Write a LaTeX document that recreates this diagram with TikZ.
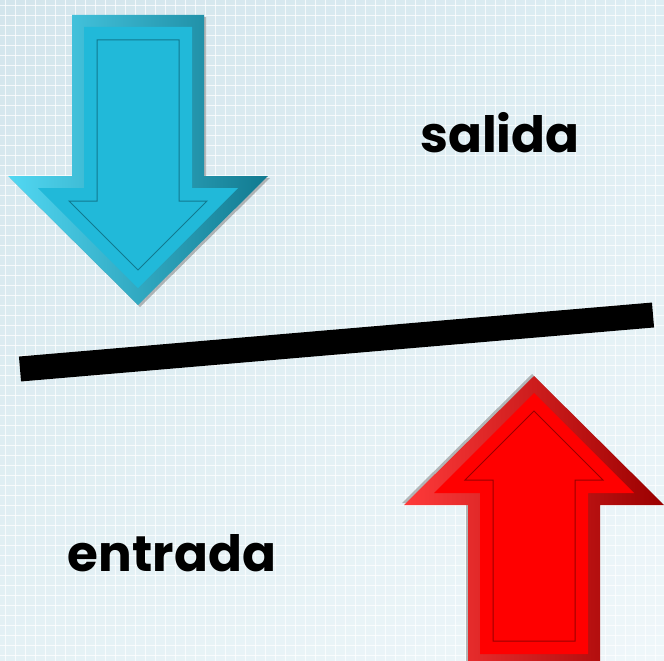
\documentclass[tikz,border=0pt]{standalone}
\usepackage{fontspec}
\setmainfont{Poppins}
\usetikzlibrary{positioning,shadings}

\definecolor{bgtl}{HTML}{D3E5EC}
\definecolor{bgtr}{HTML}{DDEDF3}
\definecolor{bgbl}{HTML}{E4F1F5}
\definecolor{bgbr}{HTML}{EFF7FA}
\definecolor{bluemain}{HTML}{21B9D9}
\definecolor{bluelight}{HTML}{52D8F3}
\definecolor{bluedark}{HTML}{117A90}
\definecolor{redmain}{HTML}{FF0000}
\definecolor{redlight}{HTML}{FF3A3A}
\definecolor{reddark}{HTML}{9A0000}

\tikzset{
  word/.style={font=\fontsize{50}{60}\selectfont\bfseries, text=black},
  gridline/.style={white, line width=.8pt, opacity=.75},
  % arrow pointing down, tip at the origin
  pics/bevelarrow/.style n args={4}{code={
    \fill[black!45, opacity=.6, shift={(2,2)}]
      (-66,-290) -- (66,-290) -- (66,-129) -- (130,-129) -- (0,0)
      -- (-130,-129) -- (-66,-129) -- cycle;
    \shade[left color=#2, right color=#3]
      (-66,-290) -- (66,-290) -- (66,-129) -- (130,-129) -- (0,0)
      -- (-130,-129) -- (-66,-129) -- cycle;
    \fill[#1]
      (-54,-278) -- (54,-278) -- (54,-117) -- (100,-117) -- (0,-17)
      -- (-100,-117) -- (-54,-117) -- cycle;
    \draw[#4, line width=1pt]
      (-41,-265) -- (41,-265) -- (41,-104) -- (69,-104) -- (0,-35)
      -- (-69,-104) -- (-41,-104) -- cycle;
  }}
}

\begin{document}
\begin{tikzpicture}[x=1pt, y=-1pt]
  \useasboundingbox (0,0) rectangle (664,661);
  \clip (0,0) rectangle (664,661);

  % background
  \shade[upper left=bgtl, upper right=bgtr, lower left=bgbl, lower right=bgbr]
    (0,0) rectangle (664,661);
  \foreach \g in {5,15,...,665} {
    \draw[gridline] (\g,0) -- (\g,661);
    \draw[gridline] (0,\g) -- (664,\g);
  }

  % arrows
  \pic at (138,305) {bevelarrow={bluemain}{bluelight}{bluedark}{bluedark}};
  \pic[rotate=180] at (534,376) {bevelarrow={redmain}{redlight}{reddark}{reddark}};

  % the bar
  \coordinate (barL) at (20,369);
  \coordinate (barR) at (653,315);
  \draw[black, line width=25pt] (barL) -- (barR);

  \node[word] (salida) at (500,133) {salida};
  \node[word] (entrada) at (172,553) {entrada};
\end{tikzpicture}
\end{document}
